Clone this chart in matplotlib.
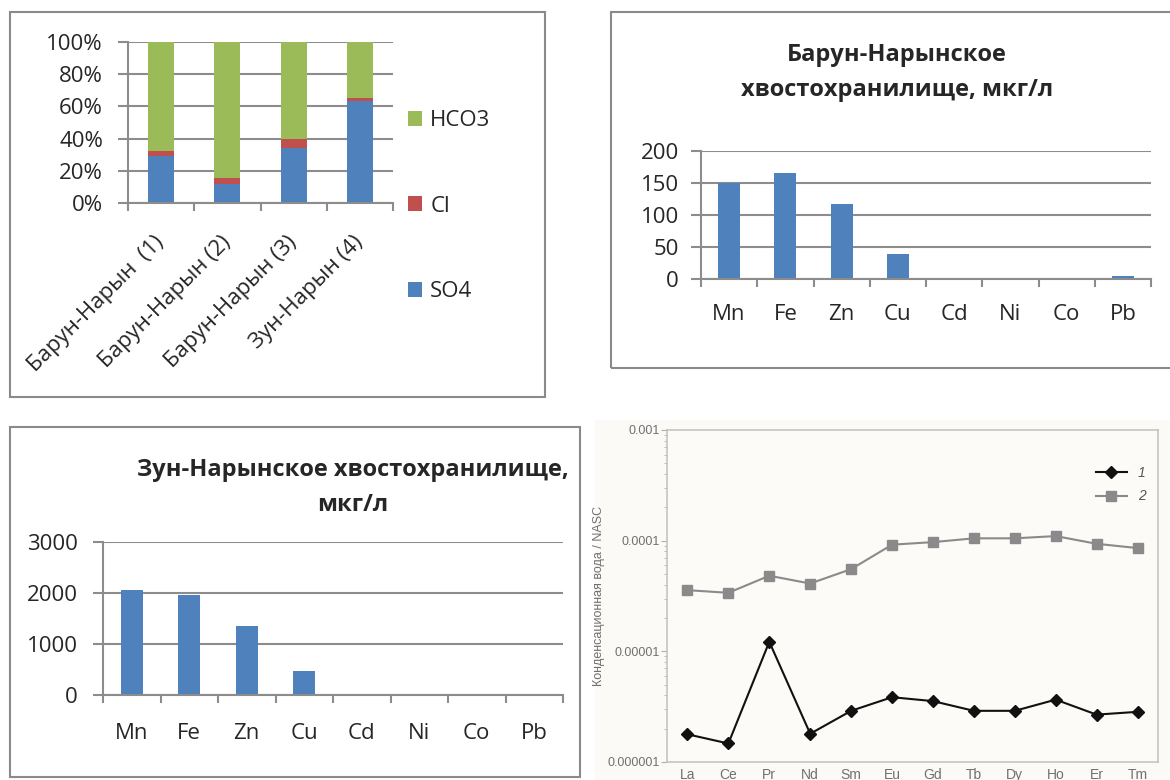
import matplotlib
matplotlib.use("Agg")
import matplotlib.pyplot as plt
import matplotlib.patches as patches
import numpy as np

# --- data -------------------------------------------------------------
sites = ["Барун-Нарын  (1)", "Барун-Нарын (2)", "Барун-Нарын (3)", "Зун-Нарын (4)"]
so4_pct = [29.5, 12, 34, 63.5]
cl_pct = [2.5, 3.5, 5.5, 1.5]
hco3_pct = [100 - a - b for a, b in zip(so4_pct, cl_pct)]

metals = ["Mn", "Fe", "Zn", "Cu", "Cd", "Ni", "Co", "Pb"]
barun_metals = [150, 165, 117, 39, 2, 2, 0, 4]
zun_metals = [2050, 1955, 1350, 475, 0, 0, 0, 0]

ree = ["La", "Ce", "Pr", "Nd", "Sm", "Eu", "Gd", "Tb", "Dy", "Ho", "Er", "Tm"]
ree_1 = [1.78e-6, 1.47e-6, 1.22e-5, 1.8e-6, 2.9e-6, 3.85e-6,
         3.55e-6, 2.9e-6, 2.9e-6, 3.66e-6, 2.68e-6, 2.84e-6]
ree_2 = [3.57e-5, 3.38e-5, 4.82e-5, 4.1e-5, 5.53e-5, 9.2e-5,
         9.7e-5, 1.05e-4, 1.05e-4, 1.1e-4, 9.37e-5, 8.57e-5]

# --- style ------------------------------------------------------------
W, H = 1170, 780
BLUE, RED, GREEN = "#4f81bd", "#c0504d", "#9bbb59"
GRID = "#8c8c8c"
TXT = "#262626"
FONT = "Open Sans"
plt.rcParams["font.family"] = [FONT, "DejaVu Sans"]

fig = plt.figure(figsize=(W / 100, H / 100), dpi=100)


def box(x0, y0, x1, y1):
    # pixel box -> figure fraction [left, bottom, width, height]
    return [x0 / W, 1 - y1 / H, (x1 - x0) / W, (y1 - y0) / H]


def frame(x0, y0, x1, y1, color="#8a8a8a", fc="none", lw=1.5, z=0):
    fig.patches.append(patches.Rectangle((x0 / W, 1 - y1 / H), (x1 - x0) / W, (y1 - y0) / H,
                                         transform=fig.transFigure, fill=fc != "none",
                                         facecolor=fc, edgecolor=color, lw=lw, zorder=z))


def excel_axes(ax, n, ypad):
    ax.set_xlim(-0.5, n - 0.5)
    for s in ["top", "right"]:
        ax.spines[s].set_visible(False)
    for s in ["left", "bottom"]:
        ax.spines[s].set_color(GRID)
        ax.spines[s].set_linewidth(1.5)
    ax.yaxis.grid(True, color=GRID, lw=1.5)
    ax.set_axisbelow(True)
    ax.tick_params(axis="y", length=7, width=1.5, color=GRID, labelsize=16,
                   labelcolor=TXT, pad=ypad)
    ax.set_xticks(range(n))
    ax.set_xticks(np.arange(-0.5, n), minor=True)
    ax.tick_params(axis="x", which="major", length=0, labelsize=16, labelcolor=TXT)
    ax.tick_params(axis="x", which="minor", length=6, width=1.5, color=GRID)


# --- panel 1: ion composition ----------------------------------------
frame(10, 12, 545, 397)
ax1 = fig.add_axes(box(128, 42, 393, 203))
excel_axes(ax1, 4, 11)
x = np.arange(len(sites))
b1 = ax1.bar(x, so4_pct, 0.39, color=BLUE, label="SO4")
b2 = ax1.bar(x, cl_pct, 0.39, bottom=so4_pct, color=RED, label="Cl")
b3 = ax1.bar(x, hco3_pct, 0.39, bottom=np.add(so4_pct, cl_pct), color=GREEN, label="HCO3")
ax1.set_ylim(0, 100)
ax1.set_yticks(range(0, 101, 20))
ax1.set_yticklabels([f"{v}%" for v in range(0, 101, 20)])
ax1.set_xticklabels(sites, rotation=45, ha="right", va="center", rotation_mode="anchor")
ax1.tick_params(axis="x", which="major", pad=26)
ax1.legend(handles=[b3, b2, b1], loc="center left", frameon=False, fontsize=16,
           bbox_to_anchor=(408 / W, 1 - 206 / H), bbox_transform=fig.transFigure,
           borderpad=0, borderaxespad=0, labelspacing=2.9, handlelength=0.65,
           handleheight=0.65, handletextpad=0.35, labelcolor=TXT)

# --- panel 2: Barun-Naryn metals --------------------------------------
frame(611, 12, 1172, 368)
ax2 = fig.add_axes(box(701, 151, 1151, 279))
excel_axes(ax2, 8, 9)
ax2.bar(np.arange(len(metals)), barun_metals, 0.39, color=BLUE)
ax2.set_ylim(0, 200)
ax2.set_yticks(range(0, 201, 50))
ax2.set_xticklabels(metals)
ax2.tick_params(axis="x", which="major", pad=18)
fig.text(897 / W, 1 - 55 / H, "Барун-Нарынское", ha="center", va="center",
         fontsize=17, fontweight="bold", color=TXT)
fig.text(897 / W, 1 - 90 / H, "хвостохранилище, мкг/л", ha="center", va="center",
         fontsize=17, fontweight="bold", color=TXT)

# --- panel 3: Zun-Naryn metals ----------------------------------------
frame(10, 427, 580, 777)
ax3 = fig.add_axes(box(103, 542, 563, 695))
excel_axes(ax3, 8, 11)
ax3.bar(np.arange(len(metals)), zun_metals, 0.39, color=BLUE)
ax3.set_ylim(0, 3000)
ax3.set_yticks(range(0, 3001, 1000))
ax3.set_xticklabels(metals)
ax3.tick_params(axis="x", which="major", pad=20)
fig.text(353 / W, 1 - 470 / H, "Зун-Нарынское хвостохранилище,", ha="center", va="center",
         fontsize=17, fontweight="bold", color=TXT)
fig.text(353 / W, 1 - 505 / H, "мкг/л", ha="center", va="center",
         fontsize=17, fontweight="bold", color=TXT)

# --- panel 4: REE normalised to NASC ---------------------------------
frame(595, 420, 1172, 782, color="none", fc="#fbfaf6", lw=0, z=-1)
ax4 = fig.add_axes(box(667, 430, 1158, 762))
ax4.set_facecolor("#fcfbf8")
xr = np.arange(len(ree))
ax4.plot(xr, ree_1, color="#111111", lw=1.5, marker="D", ms=6, label="1")
ax4.plot(xr, ree_2, color="#8a8a8a", lw=1.5, marker="s", ms=7, label="2")
ax4.set_yscale("log")
ax4.set_ylim(1e-6, 1e-3)
ax4.set_xlim(-0.5, len(ree) - 0.5)
ax4.set_yticks([1e-6, 1e-5, 1e-4, 1e-3])
ax4.set_yticklabels(["0.000001", "0.00001", "0.0001", "0.001"])
ax4.set_xticks(xr)
ax4.set_xticklabels(ree)
for s in ax4.spines.values():
    s.set_color("#c4c4c4")
    s.set_linewidth(1.2)
ax4.tick_params(axis="both", which="both", color="#b0b0b0", labelcolor="#707070")
ax4.tick_params(axis="y", which="major", length=4, labelsize=9, pad=1)
ax4.tick_params(axis="y", which="minor", length=2)
ax4.tick_params(axis="x", length=0, labelsize=10, pad=4)
for t in ax4.get_xticklabels() + ax4.get_yticklabels():
    t.set_family(["Liberation Sans", "DejaVu Sans"])
ax4.set_ylabel("Конденсационная вода / NASC", fontsize=9, color="#707070",
               family=["Liberation Sans", "DejaVu Sans"])
ax4.yaxis.set_label_coords(-0.126, 0.5)
ax4.legend(loc="upper right", bbox_to_anchor=(1.0, 0.93), frameon=False,
           prop={"family": "Liberation Sans", "style": "italic", "size": 10},
           labelcolor="#555555", handlelength=2.2, labelspacing=0.7)

fig.savefig("out.png", dpi=100, facecolor="white")
